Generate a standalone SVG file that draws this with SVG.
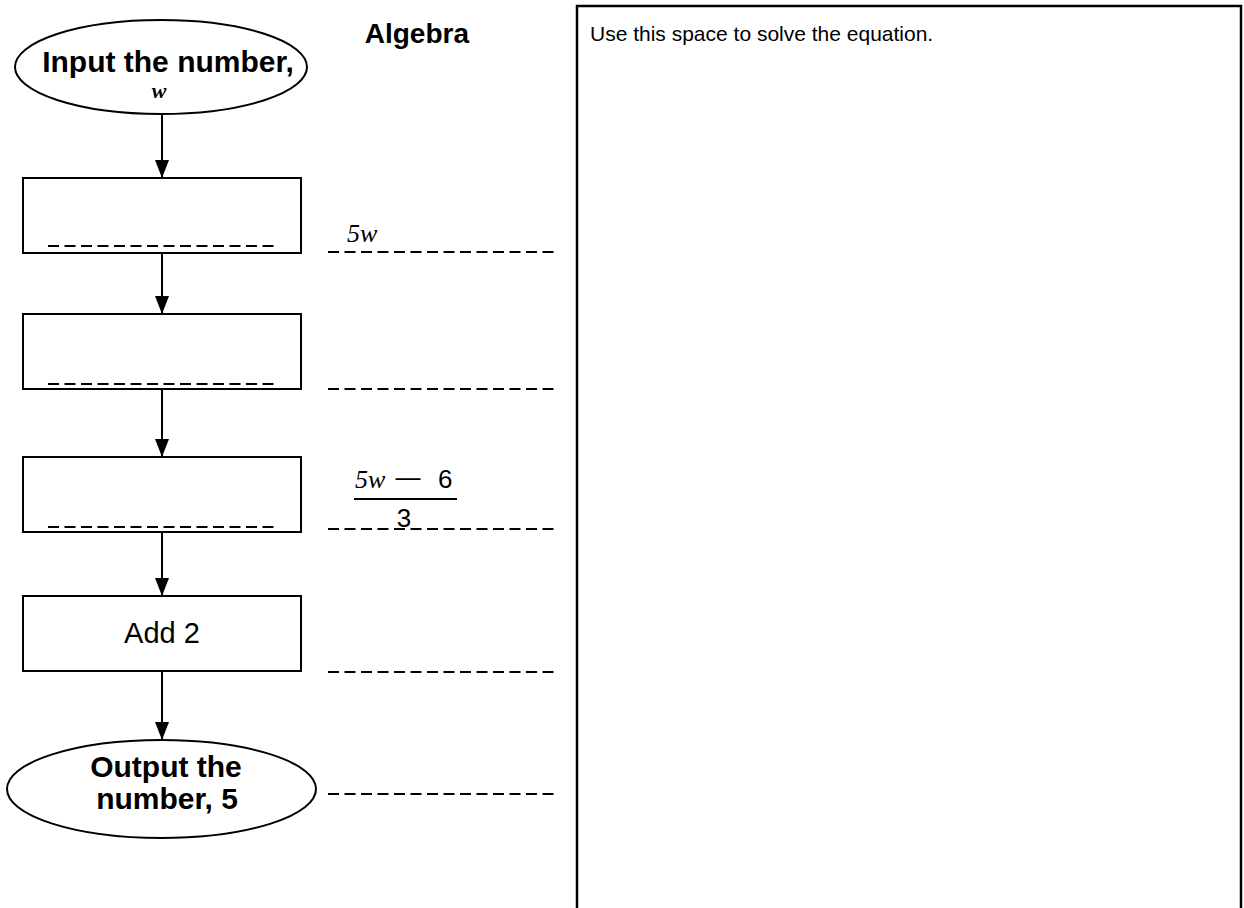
<svg xmlns="http://www.w3.org/2000/svg" width="1244" height="908" viewBox="0 0 1244 908">
<defs>
<marker id="ah" markerUnits="userSpaceOnUse" markerWidth="18" markerHeight="14" viewBox="0 0 18 14" refX="18" refY="7" orient="auto">
<path d="M0,0 L18,7 L0,14 Z" fill="#000"/>
</marker>
</defs>
<style>
.sh{fill:#fff;stroke:#000;stroke-width:2}
.dl{stroke:#000;stroke-width:2;stroke-dasharray:11 5.5;fill:none}
.ar{stroke:#000;stroke-width:2;fill:none}
.b{font-family:"Liberation Sans",Arial,sans-serif;font-weight:bold;fill:#000}
.r{font-family:"Liberation Sans",Arial,sans-serif;fill:#000}
.i{font-family:"Liberation Serif","Times New Roman",serif;font-style:italic;fill:#000}
</style>
<rect width="1244" height="908" fill="#fff"/>
<g id="work-area">
<path d="M577,910 V6 H1241 V910" fill="none" stroke="#000" stroke-width="2.5"/>
<text class="r" x="590" y="41" font-size="21">Use this space to solve the equation.</text>
</g>
<text id="title" class="b" x="469" y="43" font-size="28" text-anchor="end">Algebra</text>
<g id="connectors">
<path class="ar" d="M162,114 V178" marker-end="url(#ah)"/>
<path class="ar" d="M162,253 V314" marker-end="url(#ah)"/>
<path class="ar" d="M162,389 V457" marker-end="url(#ah)"/>
<path class="ar" d="M162,532 V596" marker-end="url(#ah)"/>
<path class="ar" d="M162,671 V740" marker-end="url(#ah)"/>
</g>
<g id="input">
<ellipse class="sh" cx="161" cy="67" rx="146" ry="47"/>
<text class="b" x="168" y="72" font-size="30" text-anchor="middle">Input the number,</text>
<text class="i" x="159" y="98" font-size="22" font-weight="bold" text-anchor="middle">w</text>
</g>
<g id="step1">
<rect class="sh" x="23" y="178" width="278" height="75"/>
<line class="dl" x1="48" y1="246" x2="277" y2="246"/>
</g>
<g id="step2">
<rect class="sh" x="23" y="314" width="278" height="75"/>
<line class="dl" x1="48" y1="384" x2="277" y2="384"/>
</g>
<g id="step3">
<rect class="sh" x="23" y="457" width="278" height="75"/>
<line class="dl" x1="48" y1="527" x2="277" y2="527"/>
</g>
<g id="step4">
<rect class="sh" x="23" y="596" width="278" height="75"/>
<text class="r" x="162" y="643" font-size="29" text-anchor="middle">Add 2</text>
</g>
<g id="output">
<ellipse class="sh" cx="161.5" cy="789" rx="154.5" ry="49"/>
<text class="b" x="166" y="777" font-size="30" text-anchor="middle">Output the</text>
<text class="b" x="167" y="809" font-size="30" text-anchor="middle">number, 5</text>
</g>
<g id="answers">
<line class="dl" x1="328" y1="252" x2="557" y2="252"/>
<text class="i" x="347" y="242" font-size="26">5w</text>
<line class="dl" x1="328" y1="389" x2="557" y2="389"/>
<line class="dl" x1="328" y1="529" x2="557" y2="529"/>
<text class="i" x="355" y="488" font-size="26">5w</text>
<text class="r" x="393" y="488" font-size="26" textLength="30" lengthAdjust="spacingAndGlyphs">−</text>
<text class="r" x="438" y="488" font-size="26">6</text>
<line x1="354" y1="499" x2="457" y2="499" stroke="#000" stroke-width="2"/>
<text class="r" x="404" y="527" font-size="26" text-anchor="middle">3</text>
<line class="dl" x1="328" y1="672" x2="557" y2="672"/>
<line class="dl" x1="328" y1="794" x2="557" y2="794"/>
</g>
</svg>
